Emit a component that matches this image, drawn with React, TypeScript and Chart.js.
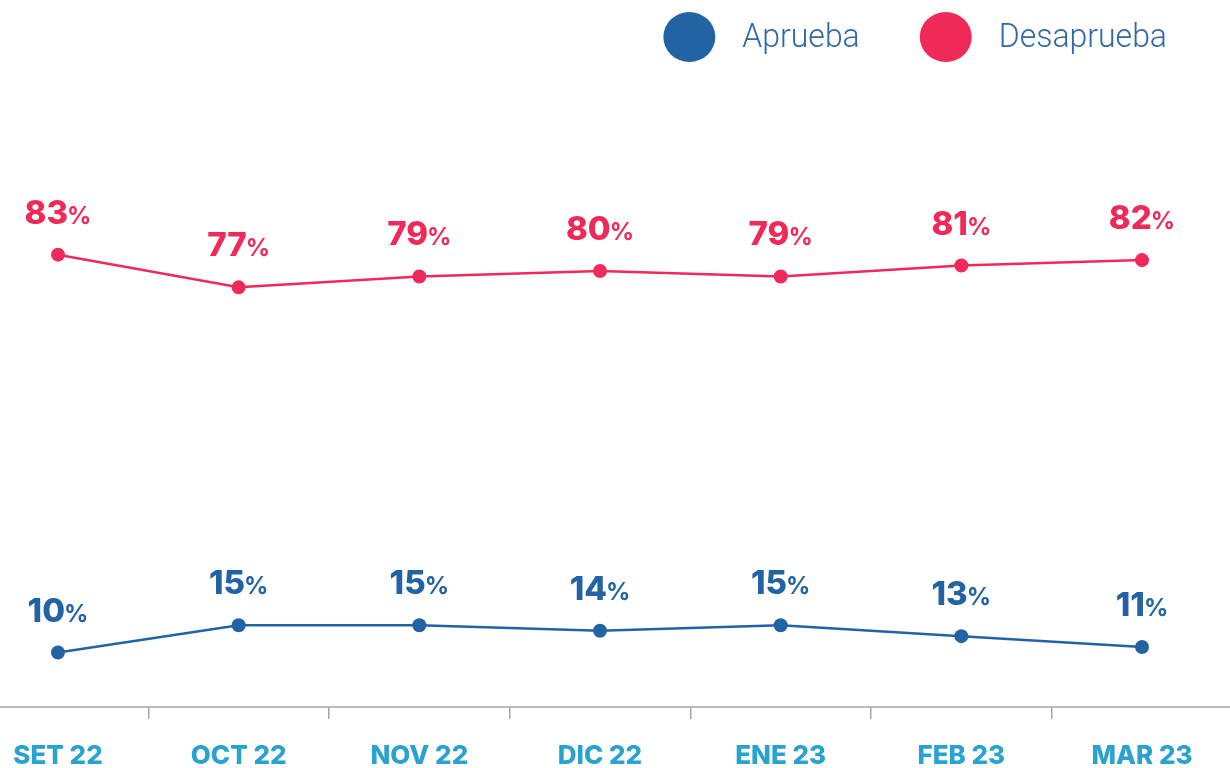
import React, { useEffect, useRef } from "react";
import { Chart, registerables } from "chart.js";

Chart.register(...registerables);

const months = ["SET 22", "OCT 22", "NOV 22", "DIC 22", "ENE 23", "FEB 23", "MAR 23"];
const aprueba = [10, 15, 15, 14, 15, 13, 11];
const desaprueba = [83, 77, 79, 80, 79, 81, 82];
const seriesNames = ["Aprueba", "Desaprueba"];

const BLUE = "#2163a3";
const RED = "#f02a58";
const TICK_BLUE = "#2aa2cf";
const AXIS_GRAY = "#a6a6a6";

const valueLabels = {
  id: "valueLabels",
  afterDatasetsDraw(chart: any) {
    const ctx = chart.ctx;
    ctx.save();
    chart.data.datasets.forEach((ds: any, di: number) => {
      const meta = chart.getDatasetMeta(di);
      meta.data.forEach((pt: any, i: number) => {
        const num = String(ds.data[i]);
        const numFont = "800 33px Inter, 'Open Sans', sans-serif";
        const pctFont = "700 24px Inter, 'Open Sans', sans-serif";
        ctx.font = numFont;
        const wNum = ctx.measureText(num).width;
        ctx.font = pctFont;
        const wPct = ctx.measureText("%").width;
        const gap = -1;
        const total = wNum + gap + wPct;
        const x0 = pt.x - total / 2;
        const y = pt.y - 31;
        ctx.fillStyle = ds.borderColor;
        ctx.textBaseline = "alphabetic";
        ctx.textAlign = "left";
        ctx.font = numFont;
        ctx.fillText(num, x0, y);
        ctx.font = pctFont;
        ctx.fillText("%", x0 + wNum + gap, y);
      });
    });
    ctx.restore();
  },
};

const fullAxisLine = {
  id: "fullAxisLine",
  beforeDatasetsDraw(chart: any) {
    const ctx = chart.ctx;
    const y = chart.scales.y.getPixelForValue(0);
    ctx.save();
    ctx.strokeStyle = AXIS_GRAY;
    ctx.lineWidth = 1.5;
    ctx.beginPath();
    ctx.moveTo(0, y);
    ctx.lineTo(chart.width, y);
    ctx.stroke();
    ctx.restore();
  },
};

const topLegend = {
  id: "topLegend",
  afterDraw(chart: any) {
    const ctx = chart.ctx;
    ctx.save();
    const font = "300 34px Roboto, sans-serif";
    ctx.font = font;
    const squeeze = 0.94;
    const r = 26;
    const gapText = 27;
    const gapItem = 60;
    const cy = 37;
    const items = chart.data.datasets.map((ds: any) => ({
      text: ds.label,
      color: ds.borderColor,
      w: ctx.measureText(ds.label).width * squeeze,
    }));
    const totalW = items.reduce((s: number, it: any) => s + 2 * r + gapText + it.w, 0) + gapItem * (items.length - 1);
    let x = 1167 - totalW;
    items.forEach((it: any) => {
      ctx.fillStyle = it.color;
      ctx.beginPath();
      ctx.ellipse(x + r, cy, r, r - 1, 0, 0, Math.PI * 2);
      ctx.fill();
      ctx.fillStyle = "#2f68a8";
      ctx.textBaseline = "middle";
      ctx.textAlign = "left";
      const tx = x + 2 * r + gapText;
      ctx.save();
      ctx.translate(tx, cy + 1);
      ctx.scale(squeeze, 1);
      ctx.fillText(it.text, 0, 0);
      ctx.restore();
      x += 2 * r + gapText + it.w + gapItem;
    });
    ctx.restore();
  },
};

export default function App() {
  const ref = useRef<HTMLCanvasElement | null>(null);
  useEffect(() => {
    if (!ref.current) return;
    const chart = new Chart(ref.current, {
      type: "line",
      data: {
        labels: months,
        datasets: [
          {
            label: seriesNames[0],
            data: aprueba,
            borderColor: BLUE,
            backgroundColor: BLUE,
            borderWidth: 2.5,
            pointRadius: 7,
            pointHoverRadius: 7,
            pointBackgroundColor: BLUE,
            pointBorderWidth: 0,
            tension: 0,
          },
          {
            label: seriesNames[1],
            data: desaprueba,
            borderColor: RED,
            backgroundColor: RED,
            borderWidth: 2.5,
            pointRadius: 7,
            pointHoverRadius: 7,
            pointBackgroundColor: RED,
            pointBorderWidth: 0,
            tension: 0,
          },
        ],
      },
      options: {
        responsive: false,
        animation: false,
        layout: { padding: { left: 58, right: 88, top: 162, bottom: 0 } },
        plugins: {
          legend: { display: false },
          tooltip: { enabled: false },
        },
        scales: {
          x: {
            type: "category",
            offset: false,
            border: { display: false },
            grid: {
              offset: true,
              drawOnChartArea: false,
              drawTicks: true,
              tickLength: 12,
              color: AXIS_GRAY,
              lineWidth: 1.5,
            },
            ticks: {
              color: TICK_BLUE,
              font: { family: "Inter, 'Open Sans', sans-serif", size: 26, weight: "800" as any, lineHeight: 1 },
              padding: 24,
              maxRotation: 0,
              autoSkip: false,
            },
            afterFit: (scale: any) => {
              scale.height = 61;
              scale.paddingLeft = 0;
              scale.paddingRight = 0;
            },
          },
          y: {
            display: false,
            min: 0,
            max: 100,
          },
        },
      },
      plugins: [fullAxisLine, valueLabels, topLegend],
    });
    return () => chart.destroy();
  }, []);
  return (
    <div style={{ position: "fixed", left: 0, top: 0, width: 1230, height: 768, background: "#fff" }}>
      <canvas ref={ref} width={1230} height={768} />
    </div>
  );
}
